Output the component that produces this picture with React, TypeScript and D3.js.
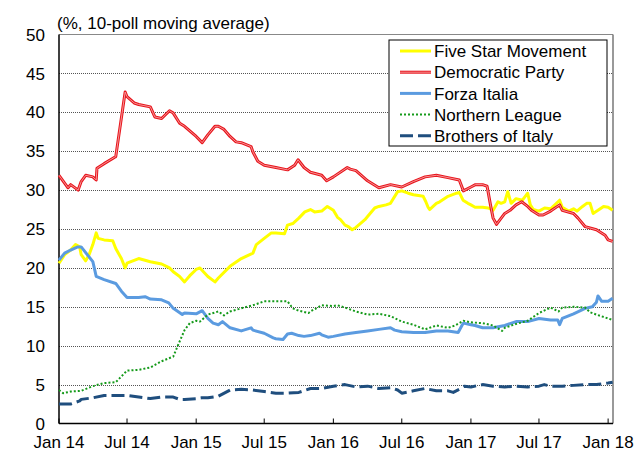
import * as d3 from 'd3';
import React from 'react';

type Pt = [string, number];

// 10-poll moving averages
const fiveStar: Pt[] = [
  ['2014-01-01', 20.6], ['2014-01-16', 21.7], ['2014-02-01', 22.3], ['2014-02-14', 23.0], ['2014-02-25', 22.7],
  ['2014-03-01', 21.7], ['2014-03-13', 20.9], ['2014-03-22', 21.7], ['2014-04-01', 23.0], ['2014-04-10', 24.5],
  ['2014-04-15', 23.8], ['2014-05-01', 23.6], ['2014-05-24', 23.5], ['2014-06-01', 22.5], ['2014-06-16', 21.2],
  ['2014-06-26', 20.0], ['2014-07-01', 20.6], ['2014-08-01', 21.2], ['2014-09-01', 20.8], ['2014-10-01', 20.5],
  ['2014-10-22', 20.0], ['2014-11-01', 19.5], ['2014-11-18', 18.9], ['2014-12-01', 18.2], ['2014-12-15', 19.0],
  ['2015-01-01', 19.8], ['2015-01-11', 20.0], ['2015-02-01', 18.9], ['2015-02-20', 18.2], ['2015-03-01', 18.7],
  ['2015-04-01', 20.2], ['2015-05-01', 21.2], ['2015-06-01', 21.9], ['2015-06-10', 23.0], ['2015-07-01', 23.8],
  ['2015-07-20', 24.5], ['2015-08-01', 24.5], ['2015-08-24', 24.4], ['2015-09-01', 25.5], ['2015-09-15', 25.7],
  ['2015-10-01', 26.4], ['2015-10-17', 27.2], ['2015-11-01', 27.5], ['2015-11-12', 27.2], ['2015-12-01', 27.3],
  ['2015-12-16', 27.9], ['2016-01-01', 27.4], ['2016-01-12', 26.5], ['2016-01-20', 26.2], ['2016-02-01', 25.5],
  ['2016-02-10', 25.3], ['2016-02-20', 24.9], ['2016-03-01', 25.2], ['2016-03-25', 26.2], ['2016-04-01', 26.6],
  ['2016-04-20', 27.7], ['2016-05-01', 27.9], ['2016-05-20', 28.1], ['2016-06-01', 28.3], ['2016-06-20', 29.8],
  ['2016-07-01', 29.9], ['2016-07-18', 29.6], ['2016-08-01', 29.4], ['2016-08-27', 29.2], ['2016-09-03', 28.5],
  ['2016-09-09', 27.8], ['2016-09-13', 27.5], ['2016-10-01', 28.3], ['2016-10-10', 28.5], ['2016-10-29', 29.1],
  ['2016-11-01', 29.2], ['2016-11-24', 29.6], ['2016-12-01', 29.7], ['2016-12-11', 28.7], ['2016-12-24', 28.3],
  ['2017-01-01', 28.1], ['2017-01-12', 27.8], ['2017-02-01', 27.8], ['2017-02-16', 27.7], ['2017-03-01', 27.4],
  ['2017-03-14', 28.5], ['2017-03-22', 28.3], ['2017-04-01', 28.5], ['2017-04-09', 29.8], ['2017-04-18', 28.3],
  ['2017-05-01', 28.9], ['2017-05-18', 28.7], ['2017-06-01', 29.6], ['2017-06-08', 28.1], ['2017-06-16', 27.5],
  ['2017-07-01', 27.3], ['2017-07-16', 27.7], ['2017-08-01', 27.6], ['2017-08-25', 28.7], ['2017-09-01', 27.8],
  ['2017-09-18', 27.3], ['2017-10-01', 27.6], ['2017-10-10', 27.3], ['2017-10-25', 27.9], ['2017-11-05', 28.3],
  ['2017-11-14', 28.3], ['2017-11-22', 27.0], ['2017-12-05', 27.4], ['2017-12-20', 27.9], ['2018-01-01', 27.8],
  ['2018-01-13', 27.4],
];

const democratic: Pt[] = [
  ['2014-01-01', 31.9], ['2014-01-25', 30.3], ['2014-02-01', 30.7], ['2014-02-21', 30.0], ['2014-03-01', 31.1],
  ['2014-03-13', 31.9], ['2014-04-01', 31.7], ['2014-04-10', 31.3], ['2014-04-12', 32.8], ['2014-05-01', 33.4],
  ['2014-05-28', 34.2], ['2014-06-01', 34.3], ['2014-06-26', 42.6], ['2014-07-01', 42.0], ['2014-07-20', 41.2],
  ['2014-08-01', 41.0], ['2014-09-01', 40.7], ['2014-09-13', 39.4], ['2014-10-01', 39.2], ['2014-10-22', 40.2],
  ['2014-11-01', 39.9], ['2014-11-18', 38.6], ['2014-12-01', 38.2], ['2015-01-01', 36.9], ['2015-01-17', 36.1],
  ['2015-02-01', 37.1], ['2015-02-20', 38.2], ['2015-03-01', 38.2], ['2015-03-16', 37.8], ['2015-04-01', 36.9],
  ['2015-04-17', 36.2], ['2015-05-01', 36.1], ['2015-05-27', 35.6], ['2015-06-01', 34.9], ['2015-06-14', 33.7],
  ['2015-07-01', 33.2], ['2015-08-01', 32.9], ['2015-09-01', 32.6], ['2015-09-20', 33.2], ['2015-09-29', 33.9],
  ['2015-10-15', 32.9], ['2015-11-01', 32.3], ['2015-12-01', 31.9], ['2015-12-14', 31.2], ['2016-01-01', 31.7],
  ['2016-02-07', 32.9], ['2016-02-15', 32.7], ['2016-03-01', 32.5], ['2016-04-01', 31.2], ['2016-05-01', 30.3],
  ['2016-06-01', 30.7], ['2016-07-01', 30.4], ['2016-08-01', 31.1], ['2016-09-01', 31.7], ['2016-10-01', 31.9],
  ['2016-11-01', 31.6], ['2016-12-01', 31.3], ['2016-12-12', 29.9], ['2017-01-01', 30.4], ['2017-01-13', 30.7],
  ['2017-02-01', 30.7], ['2017-02-13', 30.5], ['2017-02-22', 28.1], ['2017-03-01', 26.4], ['2017-03-10', 25.6],
  ['2017-04-01', 27.0], ['2017-04-15', 27.4], ['2017-05-01', 28.1], ['2017-05-16', 28.5], ['2017-06-01', 27.9],
  ['2017-06-11', 27.4], ['2017-07-01', 26.8], ['2017-07-12', 26.8], ['2017-08-01', 27.3], ['2017-08-25', 28.1],
  ['2017-09-01', 27.4], ['2017-10-01', 27.0], ['2017-10-13', 26.4], ['2017-11-01', 25.3], ['2017-12-01', 24.9],
  ['2017-12-24', 24.2], ['2018-01-01', 23.6], ['2018-01-13', 23.4],
];

const forzaItalia: Pt[] = [
  ['2014-01-01', 21.0], ['2014-01-16', 21.9], ['2014-02-01', 22.3], ['2014-02-20', 22.7], ['2014-03-01', 22.7],
  ['2014-04-01', 20.8], ['2014-04-10', 18.9], ['2014-05-01', 18.5], ['2014-06-01', 18.0], ['2014-06-16', 17.0],
  ['2014-07-01', 16.2], ['2014-08-01', 16.2], ['2014-08-18', 16.3], ['2014-09-01', 16.0], ['2014-10-01', 15.9],
  ['2014-10-20', 15.5], ['2014-11-01', 14.8], ['2014-11-25', 14.0], ['2014-12-01', 14.2], ['2015-01-01', 14.1],
  ['2015-01-17', 14.5], ['2015-02-01', 13.5], ['2015-02-15', 12.9], ['2015-03-01', 12.7], ['2015-03-12', 13.1],
  ['2015-04-01', 12.3], ['2015-05-01', 11.9], ['2015-05-27', 12.3], ['2015-06-01', 12.0], ['2015-07-01', 11.6],
  ['2015-07-25', 11.0], ['2015-08-01', 10.9], ['2015-08-20', 10.8], ['2015-09-01', 11.5], ['2015-09-12', 11.6],
  ['2015-10-01', 11.3], ['2015-10-15', 11.2], ['2015-11-01', 11.3], ['2015-11-25', 11.6], ['2015-12-01', 11.4],
  ['2015-12-18', 11.1], ['2016-01-01', 11.2], ['2016-02-01', 11.5], ['2016-03-01', 11.7], ['2016-04-01', 11.9],
  ['2016-05-01', 12.1], ['2016-06-01', 12.3], ['2016-06-12', 12.0], ['2016-07-01', 11.8], ['2016-08-01', 11.7],
  ['2016-09-01', 11.7], ['2016-10-01', 11.9], ['2016-11-01', 11.9], ['2016-11-28', 11.7], ['2016-12-08', 12.6],
  ['2016-12-12', 12.9], ['2017-01-01', 12.7], ['2017-01-12', 12.6], ['2017-02-01', 12.3], ['2017-03-01', 12.3],
  ['2017-04-01', 12.6], ['2017-05-01', 13.1], ['2017-06-01', 13.1], ['2017-07-01', 13.5], ['2017-08-01', 13.3],
  ['2017-08-20', 13.3], ['2017-08-25', 12.7], ['2017-09-01', 13.5], ['2017-10-01', 14.1], ['2017-11-01', 14.8],
  ['2017-11-20', 15.0], ['2017-12-01', 15.6], ['2017-12-05', 16.4], ['2017-12-15', 15.7], ['2018-01-01', 15.7],
  ['2018-01-13', 16.1],
];

const northernLeague: Pt[] = [
  ['2014-01-01', 4.3], ['2014-01-12', 3.9], ['2014-02-01', 4.1], ['2014-03-01', 4.2], ['2014-04-01', 4.8],
  ['2014-05-01', 5.2], ['2014-06-01', 5.3], ['2014-07-01', 6.8], ['2014-08-01', 6.9], ['2014-09-01', 7.2],
  ['2014-10-01', 8.0], ['2014-11-01', 8.6], ['2014-11-14', 10.1], ['2014-12-01', 12.0], ['2014-12-15', 12.9],
  ['2015-01-01', 13.2], ['2015-01-11', 13.1], ['2015-02-01', 14.0], ['2015-03-01', 14.4], ['2015-03-16', 13.9],
  ['2015-04-01', 14.4], ['2015-05-01', 14.8], ['2015-06-01', 15.2], ['2015-07-01', 15.7], ['2015-08-01', 15.7],
  ['2015-09-01', 15.7], ['2015-09-15', 14.8], ['2015-10-01', 14.5], ['2015-10-27', 14.2], ['2015-11-01', 14.4],
  ['2015-12-01', 15.2], ['2016-01-01', 15.1], ['2016-01-12', 15.2], ['2016-02-01', 14.9], ['2016-03-01', 14.4],
  ['2016-04-01', 14.0], ['2016-05-01', 14.1], ['2016-06-01', 13.8], ['2016-07-01', 13.1], ['2016-08-01', 12.7],
  ['2016-09-01', 12.1], ['2016-10-01', 12.6], ['2016-11-01', 12.3], ['2016-11-20', 12.6], ['2016-12-01', 12.9],
  ['2016-12-12', 13.2], ['2017-01-01', 13.0], ['2017-02-01', 12.9], ['2017-03-01', 12.6], ['2017-03-25', 11.9],
  ['2017-04-01', 12.3], ['2017-05-01', 12.8], ['2017-06-01', 13.2], ['2017-07-01', 14.2], ['2017-08-01', 14.9],
  ['2017-08-22', 14.4], ['2017-09-01', 14.9], ['2017-10-01', 15.0], ['2017-11-01', 14.9], ['2017-11-14', 14.3],
  ['2017-12-01', 14.0], ['2018-01-01', 13.5], ['2018-01-13', 13.3],
];

const brothersOfItaly: Pt[] = [
  ['2014-01-01', 2.5], ['2014-02-01', 2.5], ['2014-02-25', 2.9], ['2014-03-01', 3.1], ['2014-04-01', 3.3],
  ['2014-05-01', 3.6], ['2014-06-01', 3.6], ['2014-07-01', 3.6], ['2014-08-01', 3.4], ['2014-09-01', 3.2],
  ['2014-10-01', 3.4], ['2014-11-01', 3.4], ['2014-11-18', 3.1], ['2014-12-01', 3.1], ['2015-01-01', 3.2],
  ['2015-01-15', 3.3], ['2015-02-01', 3.3], ['2015-03-01', 3.5], ['2015-04-01', 4.3], ['2015-05-01', 4.4],
  ['2015-06-01', 4.3], ['2015-07-01', 4.1], ['2015-08-01', 3.9], ['2015-09-01', 3.9], ['2015-10-01', 4.0],
  ['2015-11-01', 4.5], ['2015-12-01', 4.5], ['2016-01-01', 4.8], ['2016-02-01', 5.0], ['2016-03-01', 4.7],
  ['2016-04-01', 4.8], ['2016-05-01', 4.5], ['2016-06-01', 4.6], ['2016-06-20', 4.3], ['2016-07-01', 3.9],
  ['2016-08-01', 4.2], ['2016-09-01', 4.5], ['2016-10-01', 4.2], ['2016-11-01', 4.2], ['2016-11-15', 4.0],
  ['2016-12-01', 4.4], ['2016-12-15', 4.8], ['2017-01-01', 4.7], ['2017-02-01', 5.0], ['2017-03-01', 4.8],
  ['2017-04-01', 4.7], ['2017-05-01', 4.8], ['2017-06-01', 4.7], ['2017-07-01', 4.8], ['2017-07-15', 5.0],
  ['2017-08-01', 4.8], ['2017-09-01', 4.8], ['2017-10-01', 4.9], ['2017-11-01', 5.0], ['2017-12-01', 5.0],
  ['2018-01-01', 5.2], ['2018-01-13', 5.3],
];

const tickDates = ['2014-01-01', '2014-07-01', '2015-01-01', '2015-07-01', '2016-01-01', '2016-07-01', '2017-01-01', '2017-07-01', '2018-01-01'];
const tickLabels = ['Jan 14', 'Jul 14', 'Jan 15', 'Jul 15', 'Jan 16', 'Jul 16', 'Jan 17', 'Jul 17', 'Jan 18'];
const yTicks = [0, 5, 10, 15, 20, 25, 30, 35, 40, 45, 50];

const series = [
  { name: 'Five Star Movement', data: fiveStar, color: '#ffff00', width: 3, dash: null },
  { name: 'Democratic Party', data: democratic, color: '#e8141c', width: 3, dash: null },
  { name: 'Forza Italia', data: forzaItalia, color: '#5b9be0', width: 3, dash: null },
  { name: 'Northern League', data: northernLeague, color: '#159a1a', width: 2, dash: '2,2' },
  { name: 'Brothers of Italy', data: brothersOfItaly, color: '#1f4e7e', width: 3, dash: '13,5' },
];

const W = 637;
const H = 453;
const margin = { top: 34.5, right: 24, bottom: 29.5, left: 59 };
const font = '"Liberation Sans", Arial, sans-serif';

export default function App() {
  const parse = d3.timeParse('%Y-%m-%d');
  const x = d3.scaleTime()
    .domain([parse('2014-01-01')!, parse('2018-01-14')!])
    .range([margin.left, W - margin.right]);
  const y = d3.scaleLinear().domain([0, 50]).range([H - margin.bottom, margin.top]);

  const line = d3.line<Pt>()
    .x(d => x(parse(d[0])!))
    .y(d => y(d[1]));

  const x0 = margin.left;
  const x1 = W - margin.right;
  const yb = y(0);
  const yt = y(50);

  // legend placement
  const lg = { x: 389, y: 40, w: 218, h: 106, row: 21.2 };

  return (
    <svg width={W} height={H} style={{ position: 'absolute', left: 0, top: 0, background: '#fff' }} fontFamily={font}>
      <rect width={W} height={H} fill="#fff" />
      {/* gridlines */}
      {yTicks.filter(t => t > 0 && t < 50).map(t => (
        <line key={t} x1={x0} x2={x1} y1={Math.round(y(t)) + 0.5} y2={Math.round(y(t)) + 0.5}
          stroke="#555" strokeWidth={1} strokeDasharray="1,1" />
      ))}
      {/* frame */}
      <line x1={x0} x2={x1} y1={yt} y2={yt} stroke="#888" strokeWidth={1} />
      <line x1={x1} x2={x1} y1={yt} y2={yb} stroke="#777" strokeWidth={1.5} />
      <line x1={x0} x2={x0} y1={yt} y2={yb} stroke="#000" strokeWidth={1.5} />
      <line x1={x0} x2={x1} y1={yb} y2={yb} stroke="#000" strokeWidth={1.5} />
      {/* x ticks, pointing inward */}
      {tickDates.map((d, i) => {
        const tx = x(parse(d)!);
        return (
          <g key={d}>
            <line x1={tx} x2={tx} y1={yb} y2={yb - 5} stroke="#000" strokeWidth={1} />
            <text x={tx} y={448} textAnchor="middle" fontSize={17} fill="#000">{tickLabels[i]}</text>
          </g>
        );
      })}
      {/* y labels */}
      {yTicks.map(t => (
        <text key={t} x={45} y={y(t)} dy="0.36em" textAnchor="end" fontSize={17} fill="#000">{t}</text>
      ))}
      <text x={57} y={29} fontSize={17} fill="#000">(%, 10-poll moving average)</text>

      {/* series */}
      {series.map(s => (
        <g key={s.name}>
          <path d={line(s.data) || ''} fill="none" stroke={s.color} strokeWidth={s.width}
            strokeDasharray={s.dash || undefined} strokeLinejoin="round" />
          {s.name === 'Democratic Party' && (
            <path d={line(s.data) || ''} fill="none" stroke="#f6a3a3" strokeWidth={0.9} strokeLinejoin="round" />
          )}
        </g>
      ))}

      {/* legend */}
      <rect x={lg.x} y={lg.y} width={lg.w} height={lg.h} fill="#fff" stroke="#000" strokeWidth={1} />
      {series.map((s, i) => {
        const ry = lg.y + 11 + i * lg.row;
        return (
          <g key={s.name}>
            <line x1={400} x2={431} y1={ry} y2={ry} stroke={s.color} strokeWidth={s.width}
              strokeDasharray={s.dash || undefined} />
            {s.name === 'Democratic Party' && (
              <line x1={400} x2={431} y1={ry} y2={ry} stroke="#f6a3a3" strokeWidth={0.9} />
            )}
            <text x={434} y={ry} dy="0.36em" fontSize={17} fill="#000">{s.name}</text>
          </g>
        );
      })}
    </svg>
  );
}
